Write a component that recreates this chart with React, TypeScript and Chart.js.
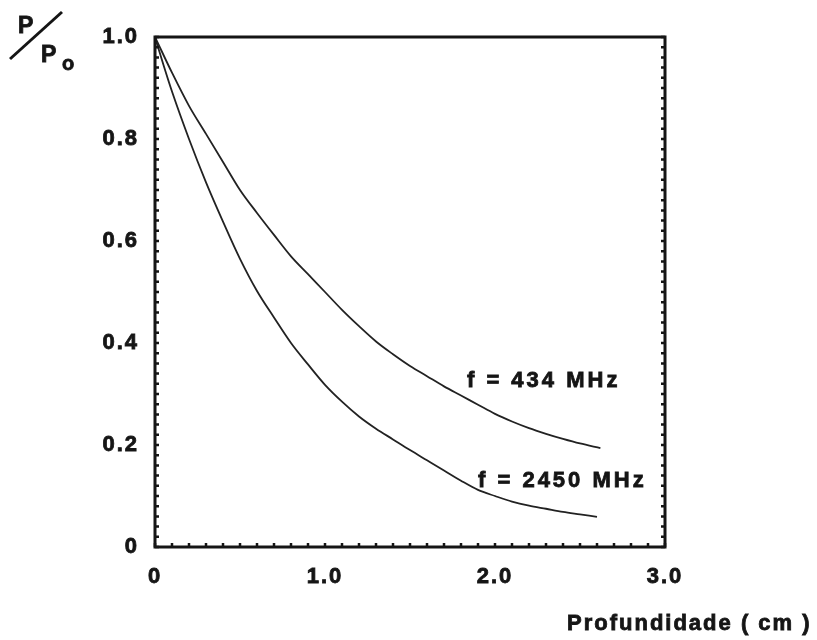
import React, { useEffect, useRef } from 'react';
import { Chart, registerables } from 'chart.js';

Chart.register(...registerables);

// ---- data ----
const depth434 = [0, 0.1, 0.2, 0.3, 0.4, 0.5, 0.6, 0.7, 0.8, 0.9, 1.0, 1.1, 1.2, 1.3, 1.4, 1.5, 1.6, 1.7, 1.8, 1.9, 2.0, 2.1, 2.2, 2.3, 2.4, 2.5, 2.62];
const power434 = [1.0, 0.93, 0.865, 0.81, 0.755, 0.70, 0.655, 0.612, 0.57, 0.535, 0.50, 0.465, 0.433, 0.403, 0.378, 0.355, 0.335, 0.315, 0.297, 0.279, 0.261, 0.246, 0.233, 0.222, 0.212, 0.203, 0.194];

const depth2450 = [0, 0.05, 0.1, 0.2, 0.3, 0.4, 0.5, 0.6, 0.7, 0.8, 0.9, 1.0, 1.1, 1.2, 1.3, 1.4, 1.5, 1.6, 1.7, 1.8, 1.9, 2.0, 2.1, 2.2, 2.3, 2.4, 2.5, 2.6];
const power2450 = [1.0, 0.945, 0.893, 0.80, 0.715, 0.638, 0.565, 0.502, 0.45, 0.40, 0.358, 0.318, 0.285, 0.256, 0.232, 0.211, 0.19, 0.17, 0.15, 0.13, 0.112, 0.10, 0.089, 0.081, 0.075, 0.069, 0.064, 0.059];

const xTickValues = [0, 1, 2, 3];
const xTickLabels = ['0', '1.0', '2.0', '3.0'];
const yTickValues = [0, 0.2, 0.4, 0.6, 0.8, 1.0];
const yTickLabels = ['0', '0.2', '0.4', '0.6', '0.8', '1.0'];

const curveLabels = ['f = 434 MHz', 'f = 2450 MHz'];
const curveLabelX = [1.835, 1.9];
const curveLabelY = [0.314, 0.118];

const xTitle = 'Profundidade ( cm )';

const FONT = '"Liberation Sans", Arial, sans-serif';
const INK = '#151515';

function heavyText(ctx: any, text: string, x: number, y: number) {
  ctx.fillText(text, x, y);
  ctx.strokeText(text, x, y);
}

const decorPlugin = {
  id: 'decor',
  beforeLayout(chart: any) {
    chart.ctx.letterSpacing = '2px';
  },
  beforeDraw(chart: any) {
    const ctx = chart.ctx;
    ctx.save();
    ctx.fillStyle = '#ffffff';
    ctx.fillRect(0, 0, chart.width, chart.height);
    ctx.restore();
    ctx.letterSpacing = '2px';
  },
  afterDraw(chart: any) {
    const ctx = chart.ctx;
    const { left, right, top, bottom } = chart.chartArea;
    const xs = chart.scales.x;
    const ys = chart.scales.y;
    ctx.save();
    // frame
    ctx.strokeStyle = INK;
    ctx.lineWidth = 3;
    ctx.strokeRect(left, top, right - left, bottom - top);
    // minor ticks
    ctx.lineWidth = 2.5;
    ctx.beginPath();
    for (let i = 0; i <= 30; i++) {
      const px = xs.getPixelForValue(i * 0.1);
      ctx.moveTo(px, bottom);
      ctx.lineTo(px, bottom - 4);
    }
    for (let i = 0; i <= 50; i++) {
      const py = ys.getPixelForValue(i * 0.02);
      ctx.moveTo(left, py);
      ctx.lineTo(left + 4, py);
      ctx.moveTo(right, py);
      ctx.lineTo(right - 4, py);
    }
    ctx.stroke();

    // curve labels
    ctx.fillStyle = INK;
    ctx.strokeStyle = INK;
    ctx.lineWidth = 0.8;
    ctx.font = `bold 22px ${FONT}`;
    ctx.textAlign = 'left';
    ctx.textBaseline = 'alphabetic';
    ctx.letterSpacing = '3px';
    for (let i = 0; i < curveLabels.length; i++) {
      heavyText(ctx, curveLabels[i], xs.getPixelForValue(curveLabelX[i]), ys.getPixelForValue(curveLabelY[i]));
    }

    // x title
    ctx.letterSpacing = '2px';
    heavyText(ctx, xTitle, 567, 630);

    // y title P/Po
    ctx.letterSpacing = '0px';
    ctx.font = `bold 23px ${FONT}`;
    heavyText(ctx, 'P', 18, 33);
    heavyText(ctx, 'P', 41, 62);
    ctx.font = `bold 20px ${FONT}`;
    heavyText(ctx, 'o', 62, 70);
    ctx.lineWidth = 3;
    ctx.beginPath();
    ctx.moveTo(10, 59);
    ctx.lineTo(62, 12);
    ctx.stroke();
    ctx.restore();
    ctx.letterSpacing = '2px';
  },
};

export default function App() {
  const canvasRef = useRef<HTMLCanvasElement | null>(null);

  useEffect(() => {
    const canvas = canvasRef.current;
    if (!canvas) return;
    const tickFont = { family: FONT, size: 22, weight: 'bold' as const };
    const chart = new Chart(canvas, {
      type: 'line',
      data: {
        datasets: [
          {
            label: curveLabels[0],
            data: depth434.map((d, i) => ({ x: d, y: power434[i] })),
            borderColor: '#222',
            borderWidth: 1.8,
            pointRadius: 0,
            cubicInterpolationMode: 'monotone',
            fill: false,
          },
          {
            label: curveLabels[1],
            data: depth2450.map((d, i) => ({ x: d, y: power2450[i] })),
            borderColor: '#222',
            borderWidth: 1.8,
            pointRadius: 0,
            cubicInterpolationMode: 'monotone',
            fill: false,
          },
        ],
      },
      options: {
        animation: false,
        responsive: false,
        devicePixelRatio: 1,
        layout: { padding: { top: 37, right: 152, left: 0, bottom: 0 } },
        plugins: { legend: { display: false }, tooltip: { enabled: false } },
        scales: {
          x: {
            type: 'linear',
            min: 0,
            max: 3,
            afterFit: (s: any) => { s.height = 93; },
            afterBuildTicks: (s: any) => { s.ticks = xTickValues.map((v) => ({ value: v })); },
            ticks: {
              autoSkip: false,
              maxRotation: 0,
              padding: 17,
              color: INK,
              textStrokeColor: INK,
              textStrokeWidth: 0.8,
              font: tickFont,
              callback: (v: any) => xTickLabels[xTickValues.indexOf(Number(v))] ?? '',
            },
            grid: { display: false, drawTicks: false },
            border: { display: false },
          },
          y: {
            type: 'linear',
            min: 0,
            max: 1,
            afterFit: (s: any) => { s.width = 155; },
            afterBuildTicks: (s: any) => { s.ticks = yTickValues.map((v) => ({ value: v })); },
            ticks: {
              autoSkip: false,
              padding: 16,
              color: INK,
              textStrokeColor: INK,
              textStrokeWidth: 0.8,
              font: tickFont,
              callback: (v: any) => {
                const idx = yTickValues.findIndex((t) => Math.abs(t - Number(v)) < 1e-9);
                return idx >= 0 ? yTickLabels[idx] : '';
              },
            },
            grid: { display: false, drawTicks: false },
            border: { display: false },
          },
        },
      },
      plugins: [decorPlugin],
    });
    return () => chart.destroy();
  }, []);

  return (
    <div style={{ position: 'fixed', left: 0, top: 0, width: 817, height: 640, background: '#fff' }}>
      <canvas ref={canvasRef} width={817} height={640} style={{ display: 'block', width: 817, height: 640 }} />
    </div>
  );
}
